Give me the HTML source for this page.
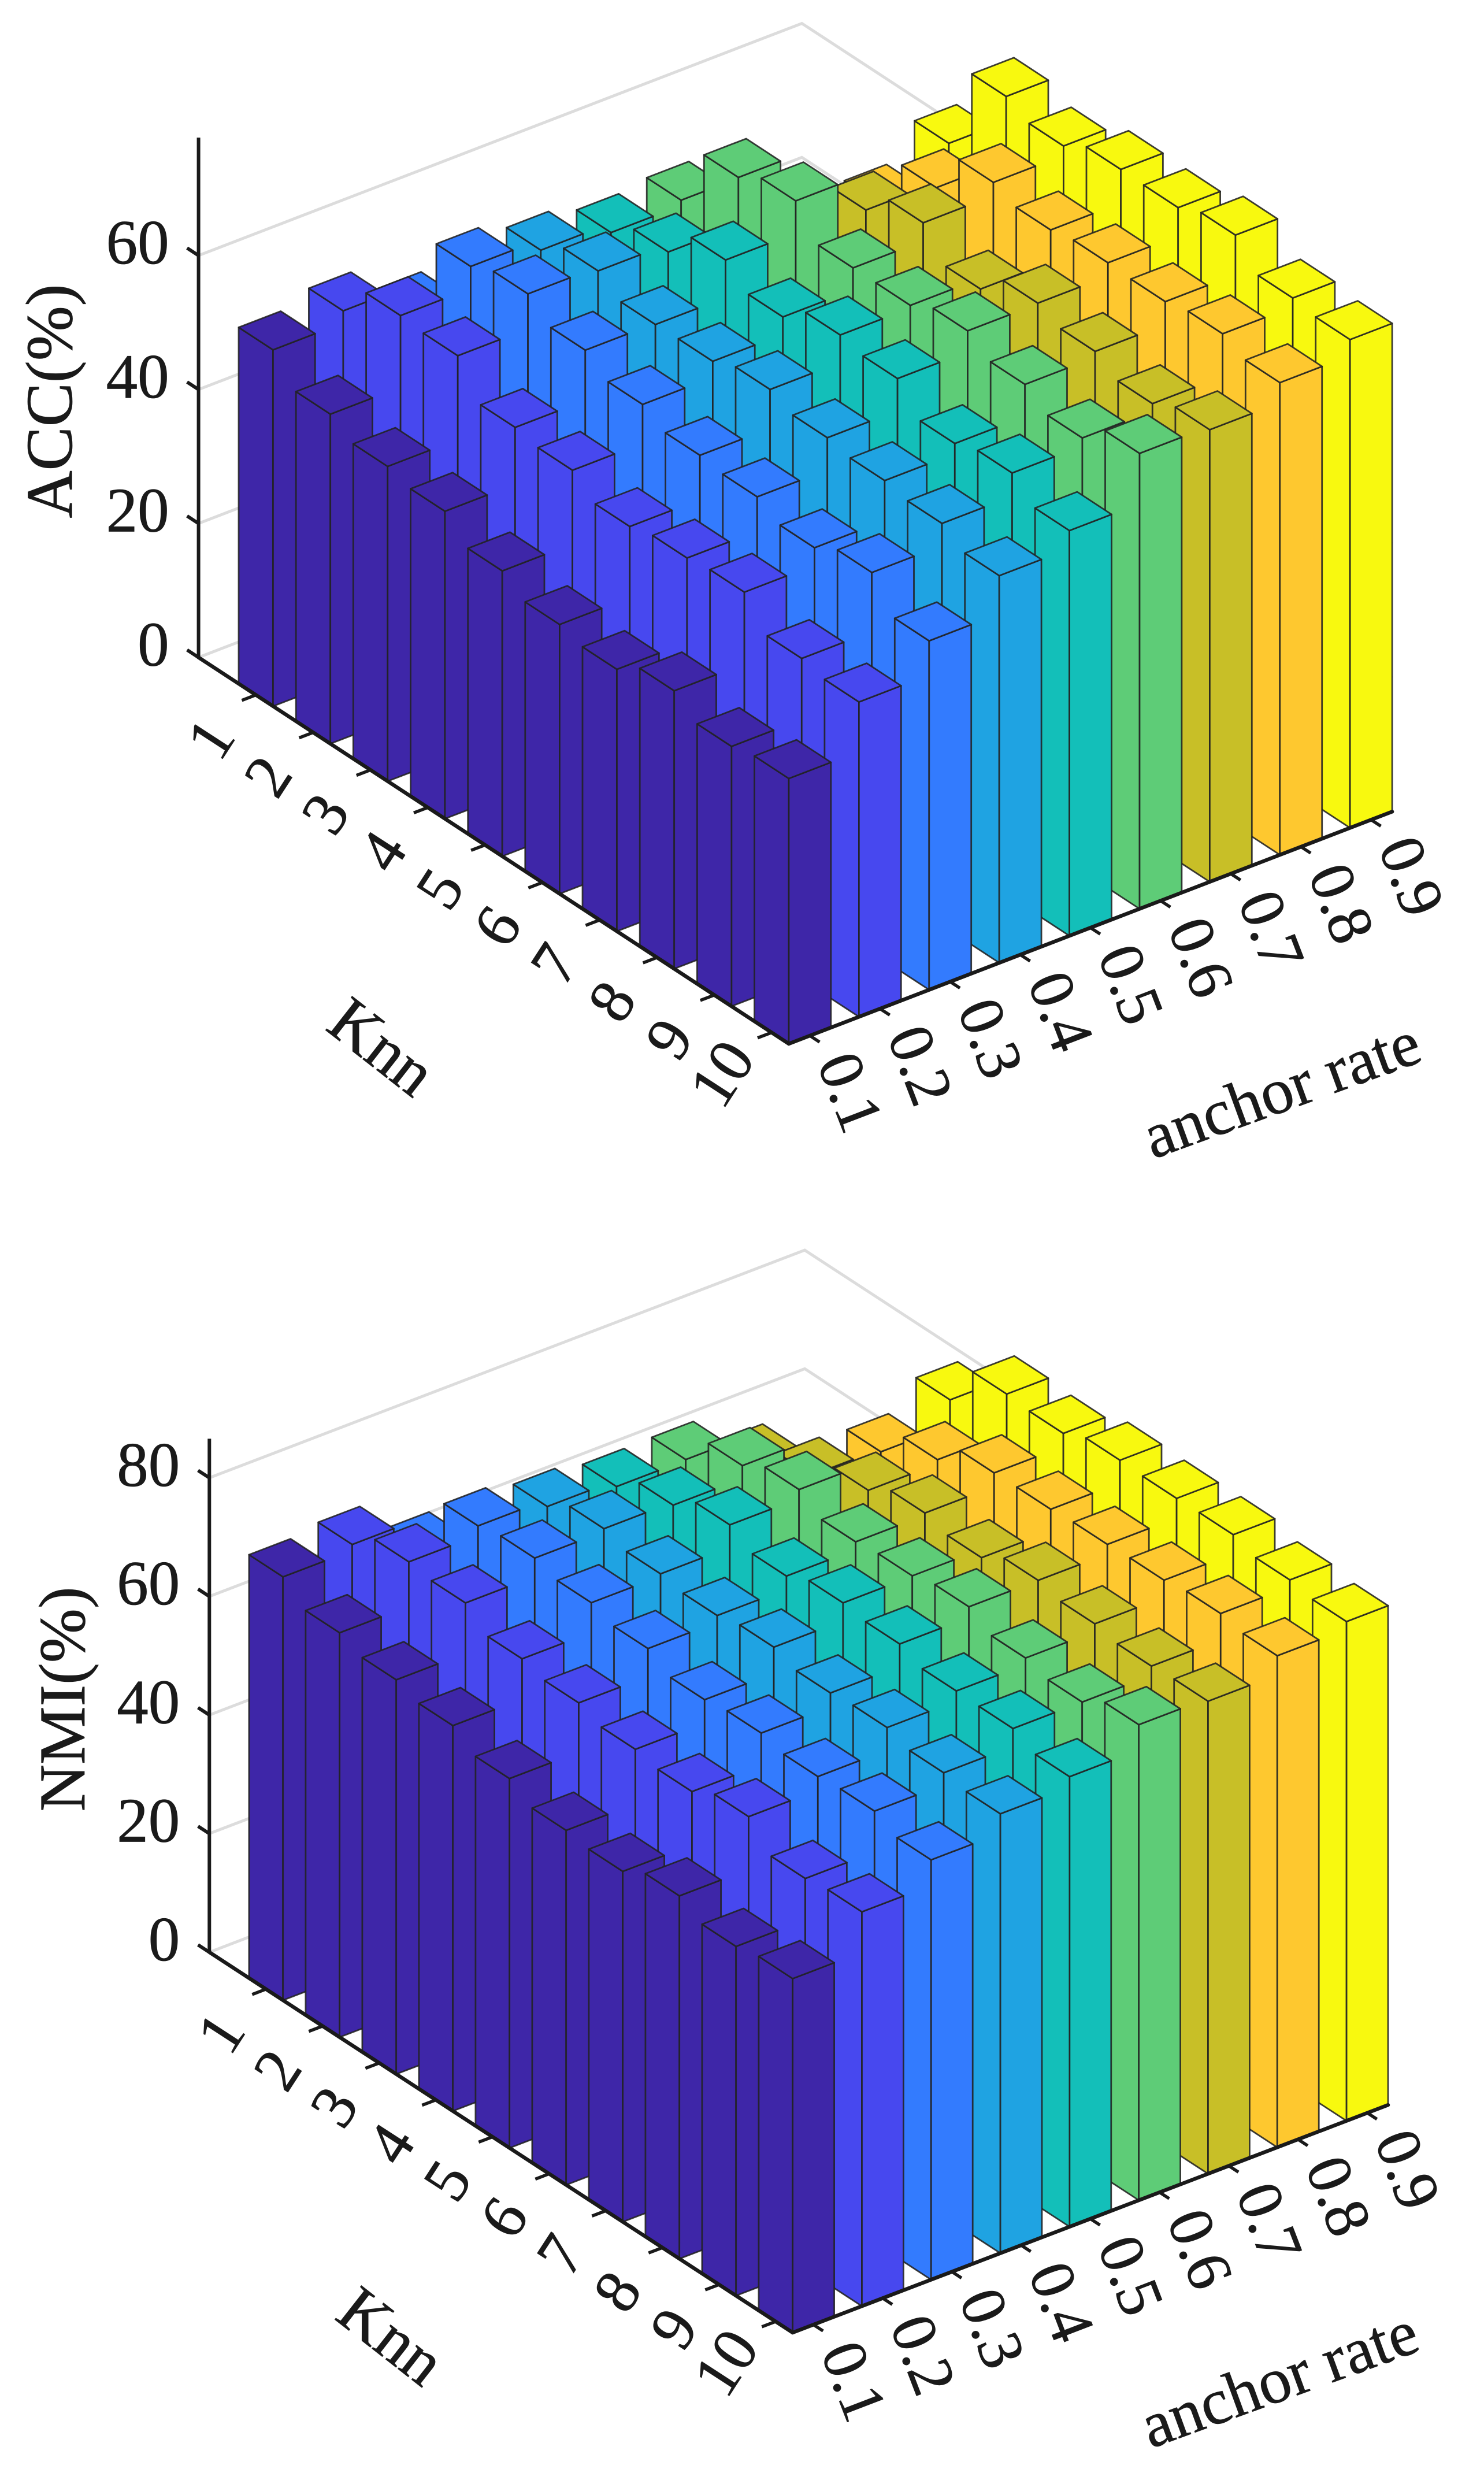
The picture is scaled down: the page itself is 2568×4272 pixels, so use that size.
<!DOCTYPE html>
<html lang="en">
<head>
<meta charset="utf-8">
<title>ACC and NMI 3D bar charts</title>
<style>
html,body{margin:0;padding:0;background:#fff;}
svg{display:block;}
text{font-family:"Liberation Serif","Times New Roman",serif;fill:#1a1a1a;stroke:#1a1a1a;stroke-width:0.8px;}
</style>
</head>
<body>
<svg id="figure" xmlns="http://www.w3.org/2000/svg" width="2568" height="4272" viewBox="0 0 2568 4272">
  <rect width="2568" height="4272" fill="#ffffff"/>
  <g id="acc-chart"></g>
  <g id="nmi-chart"></g>
  <text transform="translate(124,694) rotate(-90)" text-anchor="middle" font-size="114">ACC(%)</text>
  <text transform="translate(659,1814) rotate(38)" text-anchor="middle" dy="34" font-size="114">Knn</text>
  <text transform="translate(2220,1892) rotate(-20)" text-anchor="middle" dy="30" font-size="112">anchor rate</text>
  <text transform="translate(146,2940) rotate(-90)" text-anchor="middle" font-size="113">NMI(%)</text>
  <text transform="translate(675,4045) rotate(38)" text-anchor="middle" dy="34" font-size="114">Knn</text>
  <text transform="translate(2216,4123) rotate(-20)" text-anchor="middle" dy="30" font-size="112">anchor rate</text>
</svg>
<script>
const knnLabels = ['1','2','3','4','5','6','7','8','9','10'];
const anchorLabels = ['0.1','0.2','0.3','0.4','0.5','0.6','0.7','0.8','0.9'];
const anchorColors = ['#3e26a8','#4748ef','#337bfe','#1fa3e2','#13bfb9','#5ecc77','#c8bf27','#fec82f','#f8f90f'];

const accTicks = [0,20,40,60];
const accAnchor01 = [53.2,49.2,47,45.9,42.6,40.2,39.1,41.5,38.8,39.6];
const accAnchor02 = [55,59.9,59.5,54.4,53.6,50.8,51.7,52.2,47.9,47];
const accAnchor03 = [51,63.2,64.7,61.9,59.4,57.4,56.8,54.8,56.7,52.1];
const accAnchor04 = [50,61.6,64.1,61.7,61.8,63.2,61.6,60.8,60,57.8];
const accAnchor05 = [50,60.2,62.9,67.3,64.4,67.3,66.4,62.3,63.5,60.5];
const accAnchor06 = [49,61,70,72.1,67.7,67.7,69.5,67.1,64.7,68];
const accAnchor07 = [49,57,59,66.7,70.4,66.1,69.6,68,65.8,67.5];
const accAnchor08 = [45,47,58.1,66,72.4,70.9,71.6,71.4,72.2,70.5];
const accAnchor09 = [35,47,63,75.6,73.8,75.9,75.8,77.3,73.5,72.9];

const nmiTicks = [0,20,40,60,80];
const nmiAnchor01 = [71.4,68.2,66.5,65,62.3,59.8,59.1,61.2,58.9,59.7];
const nmiAnchor02 = [72.4,75.7,75,71.8,70.6,69,68.1,70.1,65.9,66.5];
const nmiAnchor03 = [67,77.3,78.1,76.8,75.3,72.9,73.5,72.4,72.8,70.8];
const nmiAnchor04 = [64,76.1,78.6,77.2,76.4,77.3,75.8,76.2,74.8,74.1];
const nmiAnchor05 = [63,75,78.1,81,78.6,80.3,79.6,77.9,77.8,75.9];
const nmiAnchor06 = [62,75.1,80.3,82.5,79.9,80.4,81.4,79,77.8,80.2];
const nmiAnchor07 = [60,70.2,74.2,77.9,80.3,79,81.4,80.3,79.4,79.7];
const nmiAnchor08 = [57,61,73.7,78.6,82.6,82.7,83,83.2,83.8,82.9];
const nmiAnchor09 = [48,60,78,85.2,84.8,86.5,86.3,86.4,85,84.2];

const SVGNS = 'http://www.w3.org/2000/svg';

function makeEl(parent, tag, attrs) {
  const el = document.createElementNS(SVGNS, tag);
  for (const k in attrs) el.setAttribute(k, attrs[k]);
  parent.appendChild(el);
  return el;
}

function drawChart(root, series, ticks, geo, prefix) {
  const project = (i, j, z) => ({
    x: geo.fx + i * geo.kx + j * geo.ax,
    y: geo.fy + i * geo.ky + j * geo.ay - z * geo.zs
  });
  const pts = list => list.map(p => p.x.toFixed(1) + ',' + p.y.toFixed(1)).join(' ');
  const iMin = -1.3, iMax = 9, jMax = 8.6, w = 0.6;
  const origin = project(iMin, 0, 0);
  const corner = project(iMax, 0, 0);
  const rightEnd = project(iMax, jMax, 0);

  // gridlines on the two back walls
  const gridColor = '#dcdcdc';
  ticks.forEach(t => {
    const a = project(iMin, 0, t), b = project(iMin, jMax, t), c = project(iMax, jMax, t);
    const grid = makeEl(root, 'polyline', {points: pts([a, b, c]), fill: 'none', stroke: gridColor, 'stroke-width': 5});
    
    
  });

  // bars, painted from back to front
  for (let i = 0; i < knnLabels.length; i++) {
    for (let j = anchorLabels.length - 1; j >= 0; j--) {
      const v = series[j][i];
      const color = anchorColors[j];
      const g = makeEl(root, 'g', {stroke: '#222', 'stroke-width': 2.8, 'stroke-opacity': 0.88, 'stroke-linejoin': 'round', fill: color});
      
      
      makeEl(g, 'polygon', {points: pts([project(i, j, 0), project(i - w, j, 0), project(i - w, j, v), project(i, j, v)])});
      makeEl(g, 'polygon', {points: pts([project(i, j, 0), project(i, j + w, 0), project(i, j + w, v), project(i, j, v)])});
      makeEl(g, 'polygon', {points: pts([project(i, j, v), project(i - w, j, v), project(i - w, j + w, v), project(i, j + w, v)])});
    }
  }

  // axes
  const axisColor = '#1a1a1a';
  const axisTop = project(iMin, 0, geo.zTop);
  const zAxis = makeEl(root, 'line', {x1: origin.x, y1: origin.y, x2: axisTop.x, y2: axisTop.y, stroke: axisColor, 'stroke-width': 6});
  
  
  const knnAxis = makeEl(root, 'line', {x1: origin.x, y1: origin.y, x2: corner.x, y2: corner.y, stroke: axisColor, 'stroke-width': 6.5, 'stroke-linecap': 'round'});
  
  
  const anchorAxis = makeEl(root, 'line', {x1: corner.x, y1: corner.y, x2: rightEnd.x, y2: rightEnd.y, stroke: axisColor, 'stroke-width': 6.5, 'stroke-linecap': 'round'});
  
  

  // y ticks
  ticks.forEach(t => {
    const p = project(iMin, 0, t), q = project(iMin - 0.2, 0, t);
    const tk = makeEl(root, 'line', {x1: p.x, y1: p.y, x2: q.x, y2: q.y, stroke: axisColor, 'stroke-width': 6});
    
    
    const lb = makeEl(root, 'text', {x: p.x - 51, y: p.y + 14, 'text-anchor': 'end', 'font-size': 109});
    lb.textContent = String(t);
    
    
  });

  // knn ticks and labels
  knnLabels.forEach((label, i) => {
    const p = project(i - 0.3, 0, 0), q = project(i - 0.3, -0.2, 0);
    const tk = makeEl(root, 'line', {x1: p.x, y1: p.y, x2: q.x, y2: q.y, stroke: axisColor, 'stroke-width': 5.5});
    
    
    const shift = label.length > 1 ? 8 : 0;
    const lb = makeEl(root, 'text', {
      transform: 'translate(' + (p.x - 78 - shift).toFixed(1) + ',' + (p.y + 76 - shift * 0.6).toFixed(1) + ') rotate(-57)',
      'text-anchor': 'middle', dy: 36, 'font-size': 109});
    lb.textContent = label;
    
    
  });

  // anchor ticks and labels
  anchorLabels.forEach((label, j) => {
    const p = project(iMax, j + 0.3, 0), q = project(iMax + 0.17, j + 0.3, 0);
    const tk = makeEl(root, 'line', {x1: p.x, y1: p.y, x2: q.x, y2: q.y, stroke: axisColor, 'stroke-width': 5.5});
    
    
    const lb = makeEl(root, 'text', {
      transform: 'translate(' + (p.x + 70).toFixed(1) + ',' + (p.y + 98).toFixed(1) + ') rotate(69)',
      'text-anchor': 'middle', dy: 36, 'font-size': 109});
    lb.textContent = label;
    
    
  });
}

drawChart(
  document.getElementById('acc-chart'),
  [accAnchor01, accAnchor02, accAnchor03, accAnchor04, accAnchor05, accAnchor06, accAnchor07, accAnchor08, accAnchor09],
  accTicks,
  {fx: 472.5, fy: 1221.9, kx: 99.17, ky: 64.9, ax: 121.4, ay: -46.7, zs: 11.59, zTop: 77.6},
  'acc'
);
drawChart(
  document.getElementById('nmi-chart'),
  [nmiAnchor01, nmiAnchor02, nmiAnchor03, nmiAnchor04, nmiAnchor05, nmiAnchor06, nmiAnchor07, nmiAnchor08, nmiAnchor09],
  nmiTicks,
  {fx: 489.7, fy: 3460.9, kx: 98, ky: 63.9, ax: 119.8, ay: -45.8, zs: 10.26, zTop: 86.6},
  'nmi'
);
</script>
</body>
</html>
